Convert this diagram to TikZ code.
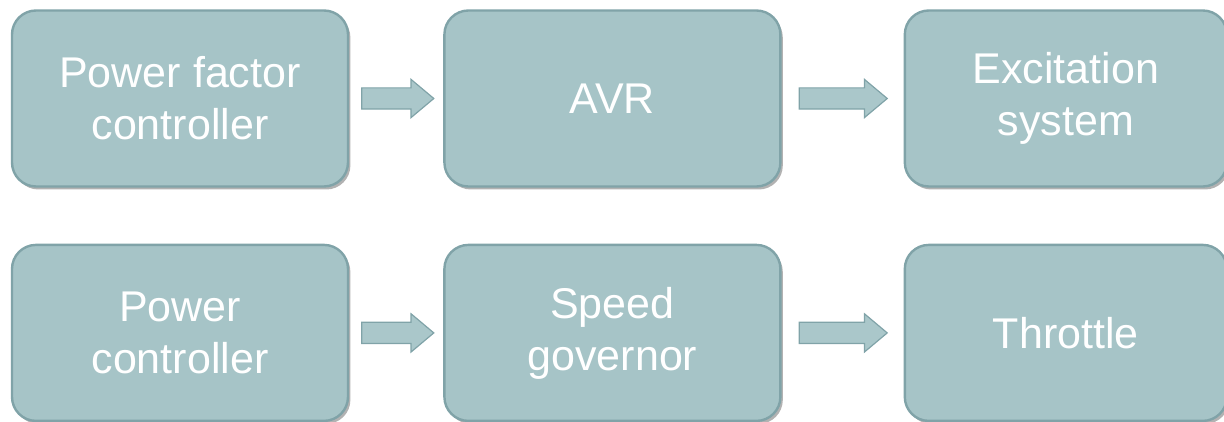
\documentclass[tikz,border=0pt]{standalone}
\usepackage{fontspec}
\setmainfont{Liberation Sans}
\usepackage{tikz}
\usetikzlibrary{shapes.arrows, positioning, shadows}
\definecolor{boxfill}{RGB}{166, 196, 199}
\definecolor{boxline}{RGB}{128, 163, 168}
\definecolor{arrowfill}{RGB}{170, 199, 202}

\begin{document}
\begin{tikzpicture}[x=0.5pt, y=-0.5pt,
    block/.style={rectangle, draw=boxline, fill=boxfill, line width=1.2pt, rounded corners=12pt, minimum width=168pt, minimum height=88pt, align=center, text=white, font=\fontsize{21.5}{26}\selectfont, drop shadow={shadow xshift=1.2pt, shadow yshift=-1.5pt, opacity=0.3, fill=black}},
    blockarrow/.style={single arrow, draw=boxline, fill=arrowfill, line width=0.6pt, inner xsep=0pt, inner ysep=5pt, minimum width=18.5pt, single arrow head extend=4.25pt, single arrow head indent=0pt, single arrow tip angle=80}
]
\useasboundingbox (0,0) rectangle (1224,422);

\node (PFC)   [block] at (180,98.5) {Power factor\\controller};
\node (AVR)   [block, right=47pt of PFC] {AVR};
\node (EXC)   [block, right=61pt of AVR, minimum width=161pt] {Excitation\\system};
\node (PWR)   [block, below=28pt of PFC] {Power\\controller};
\node (GOV)   [block, below=28pt of AVR] {Speed\\governor};
\node (THR)   [block, below=28pt of EXC, minimum width=161pt] {Throttle};

% block arrows between the boxes
\node (A1) [blockarrow, right=6pt of PFC, minimum height=36pt] {};
\node (A2) [blockarrow, right=8.5pt of AVR, minimum height=44pt] {};
\node (A3) [blockarrow, right=6pt of PWR, minimum height=36pt] {};
\node (A4) [blockarrow, right=8.5pt of GOV, minimum height=44pt] {};

\end{tikzpicture}
\end{document}
